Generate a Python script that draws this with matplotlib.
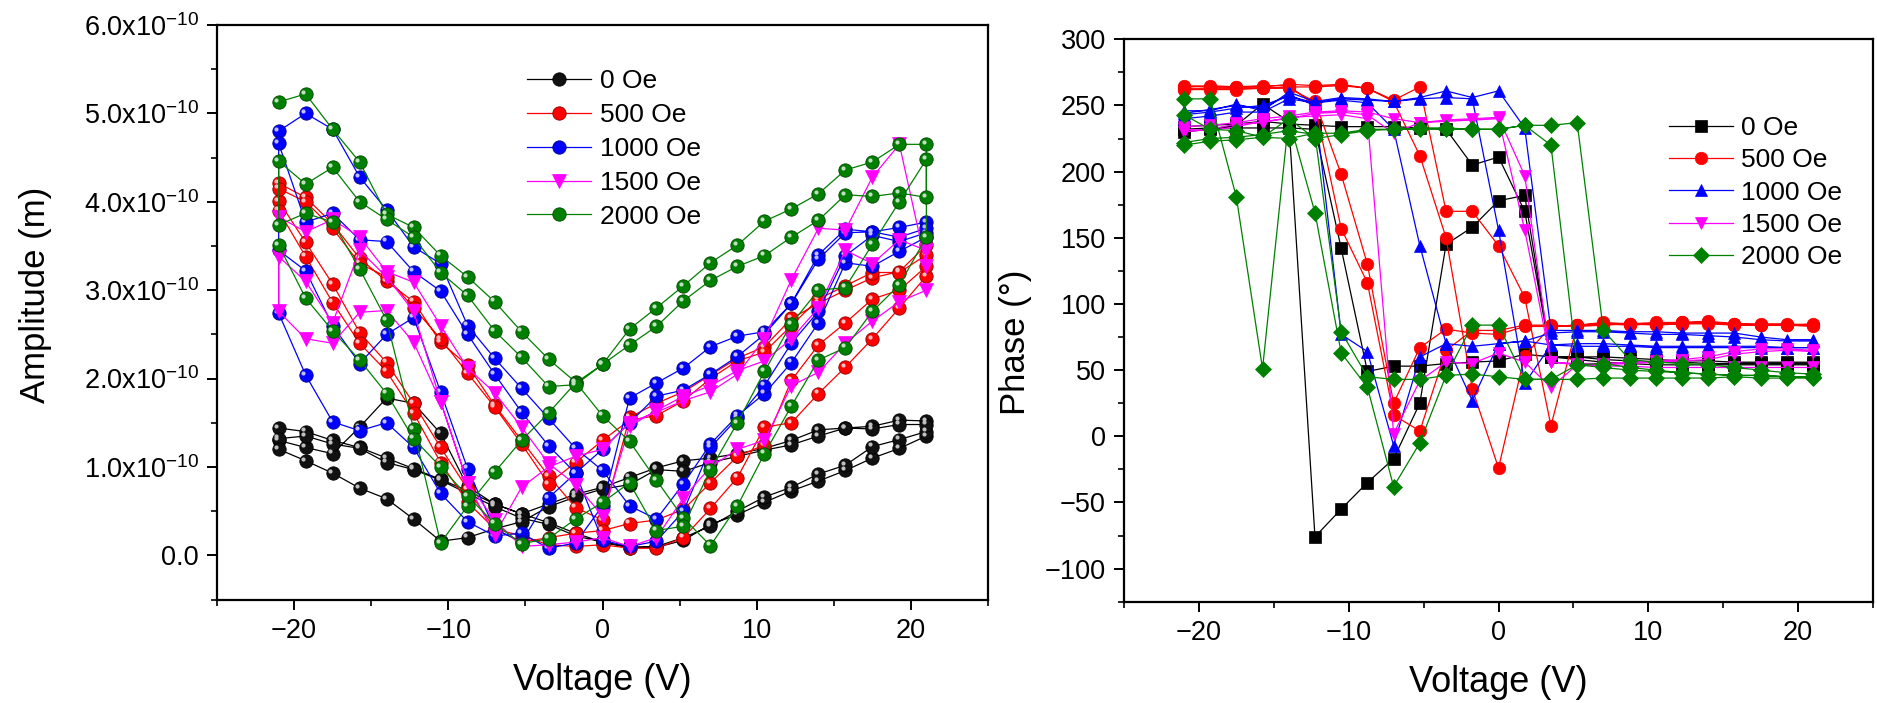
import matplotlib
matplotlib.use("Agg")
import matplotlib.pyplot as plt
import matplotlib.transforms as mtransforms
from matplotlib.ticker import FixedLocator, FixedFormatter, MultipleLocator
import numpy as np

plt.rcParams['font.family'] = ['Liberation Sans', 'DejaVu Sans']
plt.rcParams['mathtext.fontset'] = 'custom'
plt.rcParams['mathtext.rm'] = 'Liberation Sans'
plt.rcParams['mathtext.it'] = 'Liberation Sans:italic'
plt.rcParams['mathtext.bf'] = 'Liberation Sans:bold'

# ---------------- data ----------------
voltage = [-21, -19.25, -17.5, -15.75, -14, -12.25, -10.5, -8.75, -7, -5.25, -3.5, -1.75,
           0, 1.75, 3.5, 5.25, 7, 8.75, 10.5, 12.25, 14, 15.75, 17.5, 19.25, 21]

legend_labels = ["0 Oe", "500 Oe", "1000 Oe", "1500 Oe", "2000 Oe"]
series_colors = ["#000000", "#FF0000", "#0000FF", "#FF00FF", "#008000"]
amp_markers = ["o", "o", "o", "v", "o"]

# Amplitude branches (units of 1e-10 m), each listed from -21 V to +21 V;
# successive branches are swept in alternating directions.
amp_0_a = [1.44, 1.40, 1.30, 1.22, 1.10, 0.98, 0.86, 0.73, 0.58, 0.47, 0.37, 0.25, 0.15, 0.10, 0.09, 0.17, 0.35, 0.46, 0.60, 0.73, 0.84, 0.96, 1.10, 1.21, 1.35]
amp_0_b = [1.30, 1.22, 1.15, 1.45, 1.78, 1.72, 1.38, 0.78, 0.58, 0.47, 0.58, 0.69, 0.77, 0.88, 0.99, 1.07, 1.10, 1.15, 1.21, 1.30, 1.42, 1.44, 1.46, 1.53, 1.52]
amp_0_c = [1.32, 1.35, 1.26, 1.21, 1.05, 0.97, 0.85, 0.70, 0.55, 0.42, 0.35, 0.22, 0.15, 0.08, 0.10, 0.20, 0.33, 0.50, 0.66, 0.77, 0.92, 1.02, 1.23, 1.31, 1.40]
amp_0_d = [1.20, 1.07, 0.93, 0.76, 0.64, 0.41, 0.16, 0.20, 0.30, 0.38, 0.55, 0.66, 0.75, 0.80, 0.97, 0.95, 1.05, 1.12, 1.19, 1.25, 1.35, 1.44, 1.43, 1.48, 1.48]

amp_500_a = [4.21, 4.05, 3.75, 3.36, 3.10, 2.87, 2.41, 2.15, 1.70, 1.30, 0.90, 0.54, 0.40, 1.56, 1.72, 1.85, 2.04, 2.23, 2.36, 2.68, 2.85, 3.00, 3.14, 3.21, 3.51]
amp_500_b = [4.01, 3.54, 3.07, 2.52, 2.18, 1.72, 1.22, 0.75, 0.30, 0.22, 0.12, 0.10, 0.12, 0.08, 0.08, 0.20, 0.53, 0.88, 1.45, 1.50, 1.83, 2.13, 2.45, 2.80, 3.16]
amp_500_c = [3.90, 3.38, 2.86, 2.40, 2.08, 1.61, 1.05, 0.60, 0.30, 0.15, 0.20, 0.25, 0.28, 0.36, 0.40, 0.52, 0.82, 1.12, 1.25, 1.98, 2.38, 2.63, 2.90, 3.00, 3.27]
amp_500_d = [4.15, 4.00, 3.70, 3.30, 3.15, 2.80, 2.45, 2.06, 1.68, 1.26, 0.81, 1.05, 1.30, 1.53, 1.58, 1.75, 2.00, 2.20, 2.30, 2.60, 2.90, 3.05, 3.20, 3.20, 3.40]

amp_1000_a = [4.80, 5.00, 4.82, 4.28, 3.91, 3.49, 3.30, 2.60, 2.23, 1.89, 1.55, 1.21, 0.96, 0.56, 0.41, 0.81, 1.26, 1.58, 1.83, 2.18, 2.63, 3.31, 3.27, 3.44, 3.60]
amp_1000_b = [2.74, 2.04, 1.51, 1.41, 1.50, 1.22, 0.70, 0.38, 0.22, 0.25, 0.08, 0.14, 0.56, 1.78, 1.95, 2.12, 2.36, 2.48, 2.53, 2.85, 3.40, 3.69, 3.66, 3.71, 3.77]
amp_1000_c = [4.66, 3.77, 3.87, 3.57, 3.55, 3.21, 2.99, 2.50, 2.05, 1.62, 1.24, 0.93, 0.17, 0.10, 0.16, 0.50, 1.22, 1.55, 1.92, 2.40, 2.76, 3.39, 3.62, 3.55, 3.65]
amp_1000_d = [3.45, 3.22, 2.60, 2.17, 2.50, 2.69, 1.85, 0.98, 0.30, 0.15, 0.65, 0.93, 1.20, 1.50, 1.80, 1.87, 2.05, 2.25, 2.50, 2.85, 3.35, 3.65, 3.66, 3.60, 3.70]

amp_1500_a = [3.83, 3.66, 3.80, 3.60, 3.21, 3.09, 2.60, 2.12, 1.84, 1.45, 1.04, 0.80, 0.45, 1.46, 1.64, 1.80, 1.92, 2.09, 2.20, 2.45, 2.80, 3.45, 3.30, 3.57, 3.45]
amp_1500_b = [3.38, 3.10, 2.63, 3.45, 3.15, 2.76, 1.74, 0.82, 0.23, 0.77, 1.00, 1.12, 1.20, 1.50, 1.62, 1.75, 1.85, 2.05, 2.45, 3.12, 3.70, 3.68, 4.28, 4.65, 3.27]
amp_1500_c = [2.76, 2.45, 2.40, 2.75, 2.77, 2.41, 1.74, 0.82, 0.40, 0.10, 0.12, 0.15, 0.20, 0.10, 0.20, 0.65, 1.00, 1.20, 1.30, 1.92, 2.07, 2.40, 2.65, 2.87, 3.00]

amp_2000_a = [5.13, 5.22, 4.82, 4.45, 3.86, 3.71, 3.39, 3.15, 2.87, 2.53, 2.22, 1.96, 1.58, 1.29, 0.85, 0.42, 0.11, 0.56, 1.15, 1.69, 2.21, 2.35, 2.76, 3.06, 3.60]
amp_2000_b = [3.74, 3.87, 3.77, 3.24, 2.66, 1.43, 0.14, 0.56, 0.94, 1.30, 1.61, 1.95, 2.16, 2.56, 2.80, 3.05, 3.31, 3.51, 3.78, 3.92, 4.09, 4.36, 4.45, 4.65, 4.65]
amp_2000_c = [4.46, 4.20, 4.39, 4.00, 3.80, 3.60, 3.20, 2.94, 2.54, 2.24, 1.91, 1.93, 2.16, 2.38, 2.59, 2.88, 3.11, 3.27, 3.39, 3.60, 3.79, 4.08, 4.06, 4.10, 4.05]
amp_2000_d = [3.51, 2.91, 2.54, 2.21, 1.83, 1.32, 1.00, 0.67, 0.36, 0.13, 0.19, 0.41, 0.60, 0.82, 0.28, 0.33, 0.97, 1.50, 2.08, 2.62, 3.00, 3.03, 3.52, 4.00, 4.48]

amp_series = [
    [amp_0_a, amp_0_b, amp_0_c, amp_0_d],
    [amp_500_a, amp_500_b, amp_500_c, amp_500_d],
    [amp_1000_a, amp_1000_b, amp_1000_c, amp_1000_d],
    [amp_1500_a, amp_1500_b, amp_1500_c],
    [amp_2000_a, amp_2000_b, amp_2000_c, amp_2000_d],
]

# Phase branches (degrees), listed from -21 V to +21 V
ph_0_a = [230, 232, 235, 251, 238, -76, -55, -35, -17, 25, 145, 158, 178, 182, 60, 60, 58, 57, 56, 56, 55, 55, 55, 55, 55]
ph_0_b = [232, 233, 233, 233, 233, 232, 142, 49, 53, 53, 55, 56, 57, 62, 60, 60, 60, 59, 58, 57, 57, 56, 56, 56, 56]
ph_0_c = [234, 235, 236, 238, 236, 235, 234, 234, 234, 233, 232, 205, 211, 170, 60, 58, 56, 55, 54, 54, 54, 54, 54, 54, 54]

ph_500_a = [265, 264, 264, 264, 266, 265, 266, 263, 254, 264, 170, 170, 144, 105, 8, 84, 86, 85, 86, 86, 87, 85, 85, 85, 84]
ph_500_b = [262, 262, 262, 263, 263, 253, 198, 130, 25, 67, 81, 78, 77, 83, 83, 84, 85, 84, 85, 85, 86, 84, 84, 84, 84]
ph_500_c = [263, 263, 263, 263, 264, 264, 265, 263, 253, 212, 150, 36, -24, 61, 83, 84, 85, 85, 85, 86, 86, 85, 84, 84, 85]
ph_500_d = [264, 265, 264, 265, 265, 250, 157, 116, 16, 4, 65, 80, 80, 84, 84, 83, 84, 85, 84, 85, 85, 84, 84, 84, 83]

ph_1000_a = [246, 246, 251, 246, 260, 253, 256, 255, 253, 256, 261, 256, 261, 233, 80, 80, 80, 79, 79, 78, 78, 78, 75, 73, 73]
ph_1000_b = [244, 247, 250, 248, 258, 250, 77, 64, -7, 60, 70, 68, 70, 72, 69, 70, 70, 69, 68, 68, 68, 68, 68, 67, 67]
ph_1000_c = [240, 242, 245, 245, 255, 252, 254, 252, 232, 144, 70, 27, 70, 72, 78, 79, 79, 78, 77, 77, 76, 75, 73, 72, 72]
ph_1000_d = [243, 245, 248, 250, 257, 252, 255, 254, 253, 255, 256, 255, 156, 40, 69, 68, 68, 68, 67, 67, 67, 67, 67, 67, 67]

ph_1500_a = [232, 231, 234, 238, 240, 244, 245, 243, 229, 237, 239, 240, 241, 197, 56, 55, 55, 56, 57, 58, 60, 64, 66, 66, 65]
ph_1500_b = [230, 232, 236, 237, 241, 242, 243, 240, 2, 42, 56, 55, 63, 56, 37, 54, 53, 53, 52, 52, 52, 52, 52, 52, 52]
ph_1500_c = [234, 235, 237, 240, 242, 245, 246, 245, 240, 237, 238, 239, 240, 156, 56, 54, 54, 55, 56, 57, 58, 62, 64, 65, 64]

ph_2000_a = [220, 223, 224, 226, 225, 229, 229, 232, 232, 233, 233, 232, 232, 235, 235, 237, 80, 58, 56, 55, 54, 52, 50, 48, 47]
ph_2000_b = [255, 255, 181, 51, 240, 169, 63, 37, -38, -5, 46, 47, 45, 43, 43, 43, 44, 44, 44, 44, 44, 45, 44, 44, 44]
ph_2000_c = [243, 232, 231, 226, 240, 225, 228, 231, 232, 232, 232, 232, 232, 235, 220, 54, 52, 50, 49, 48, 47, 46, 46, 45, 45]
ph_2000_d = [222, 225, 226, 228, 231, 228, 79, 45, 43, 43, 46, 84, 84, 43, 43, 54, 55, 52, 50, 48, 47, 46, 46, 45, 45]

ph_series = [
    [ph_0_a, ph_0_b, ph_0_c],
    [ph_500_a, ph_500_b, ph_500_c, ph_500_d],
    [ph_1000_a, ph_1000_b, ph_1000_c, ph_1000_d],
    [ph_1500_a, ph_1500_b, ph_1500_c],
    [ph_2000_a, ph_2000_b, ph_2000_c, ph_2000_d],
]
ph_markers = ["s", "o", "^", "v", "D"]

amp_ticks = [0.0, 1.0, 2.0, 3.0, 4.0, 5.0, 6.0]
amp_ticklabels = ["0.0"] + [r"%.1fx10$^{\mathregular{-10}}$" % t for t in amp_ticks[1:]]


def build_path(branches):
    xs, ys = [], []
    for k, br in enumerate(branches):
        if k % 2 == 0:
            xs += list(voltage)
            ys += list(br)
        else:
            xs += list(voltage[::-1])
            ys += list(br[::-1])
    return np.array(xs), np.array(ys)


def lighten(c, f):
    rgb = np.array(matplotlib.colors.to_rgb(c))
    return tuple(rgb + (1 - rgb) * f)


def darken(c, f):
    rgb = np.array(matplotlib.colors.to_rgb(c))
    return tuple(rgb * (1 - f))


fig = plt.figure(figsize=(18.77, 7.03), dpi=100)
ax1 = fig.add_axes([0.1156, 0.1472, 0.4108, 0.8172])
ax2 = fig.add_axes([0.5988, 0.1441, 0.3991, 0.8000])

# ---------------- left: amplitude ----------------
hl = mtransforms.offset_copy(ax1.transData, fig=fig, x=-1.6, y=1.6, units='points')
handles = []
for branches, col, lab, mk in zip(amp_series, series_colors, legend_labels, amp_markers):
    x, y = build_path(branches)
    y = y * 1e-10
    if mk == "o":
        face = col if col != "#000000" else "#111111"
        edge = darken(col, 0.45) if col != "#000000" else "#000000"
        h, = ax1.plot(x, y, '-', color=col, lw=0.9, marker='o', ms=9.6,
                      mfc=face, mec=edge, mew=0.6, label=lab)
        ax1.plot(x, y, 'o', ms=3.0, mfc=lighten(col, 0.75), mec='none', transform=hl)
    else:
        h, = ax1.plot(x, y, '-', color=col, lw=0.9, marker=mk, ms=10.5,
                      mfc=col, mec=col, mew=0.5, label=lab)
    handles.append(h)

ax1.set_xlim(-25, 25)
ax1.set_ylim(-0.5e-10, 6.0e-10)
ax1.xaxis.set_major_locator(FixedLocator([-20, -10, 0, 10, 20]))
ax1.xaxis.set_minor_locator(MultipleLocator(5))
ax1.yaxis.set_major_locator(FixedLocator([t * 1e-10 for t in amp_ticks]))
ax1.yaxis.set_major_formatter(FixedFormatter(amp_ticklabels))
ax1.yaxis.set_minor_locator(MultipleLocator(0.5e-10))
ax1.set_xlabel("Voltage (V)", fontsize=26, labelpad=14)
ax1.set_ylabel("Amplitude (m)", fontsize=25)
ax1.yaxis.set_label_coords(-0.214, 0.53)
leg1 = ax1.legend(handles=handles, loc='upper left', bbox_to_anchor=(0.389, 0.941),
                  frameon=False, fontsize=19, handlelength=2.4, handletextpad=0.35,
                  labelspacing=0.37, numpoints=1, borderaxespad=0)

# ---------------- right: phase ----------------
ph_handles = []
for branches, col, lab, mk in zip(ph_series, series_colors, legend_labels, ph_markers):
    x, y = build_path(branches)
    ms = 8.0 if mk in ("s", "D") else 9.0
    h, = ax2.plot(x, y, '-', color=col, lw=0.9, marker=mk, ms=ms,
                  mfc=col, mec=col, mew=0.5, label=lab)
    ph_handles.append(h)

ax2.set_xlim(-25, 25)
ax2.set_ylim(-125, 300)
ax2.xaxis.set_major_locator(FixedLocator([-20, -10, 0, 10, 20]))
ax2.xaxis.set_minor_locator(MultipleLocator(5))
ax2.yaxis.set_major_locator(MultipleLocator(50))
ax2.yaxis.set_minor_locator(MultipleLocator(25))
ax2.set_xlabel("Voltage (V)", fontsize=26, labelpad=14)
ax2.set_ylabel("Phase (°)", fontsize=25)
ax2.yaxis.set_label_coords(-0.1225, 0.462)
leg2 = ax2.legend(handles=ph_handles, loc='upper left', bbox_to_anchor=(0.714, 0.882),
                  frameon=False, fontsize=19, handlelength=2.4, handletextpad=0.3,
                  labelspacing=0.31, numpoints=1, borderaxespad=0)

for ax in (ax1, ax2):
    for sp in ax.spines.values():
        sp.set_linewidth(1.6)
    ax.tick_params(which='major', direction='out', length=7, width=1.4,
                   labelsize=19.5, pad=6, top=False, right=False)
    ax.tick_params(which='minor', direction='out', length=4, width=1.2,
                   top=False, right=False)

fig.savefig("out.png", dpi=100)
